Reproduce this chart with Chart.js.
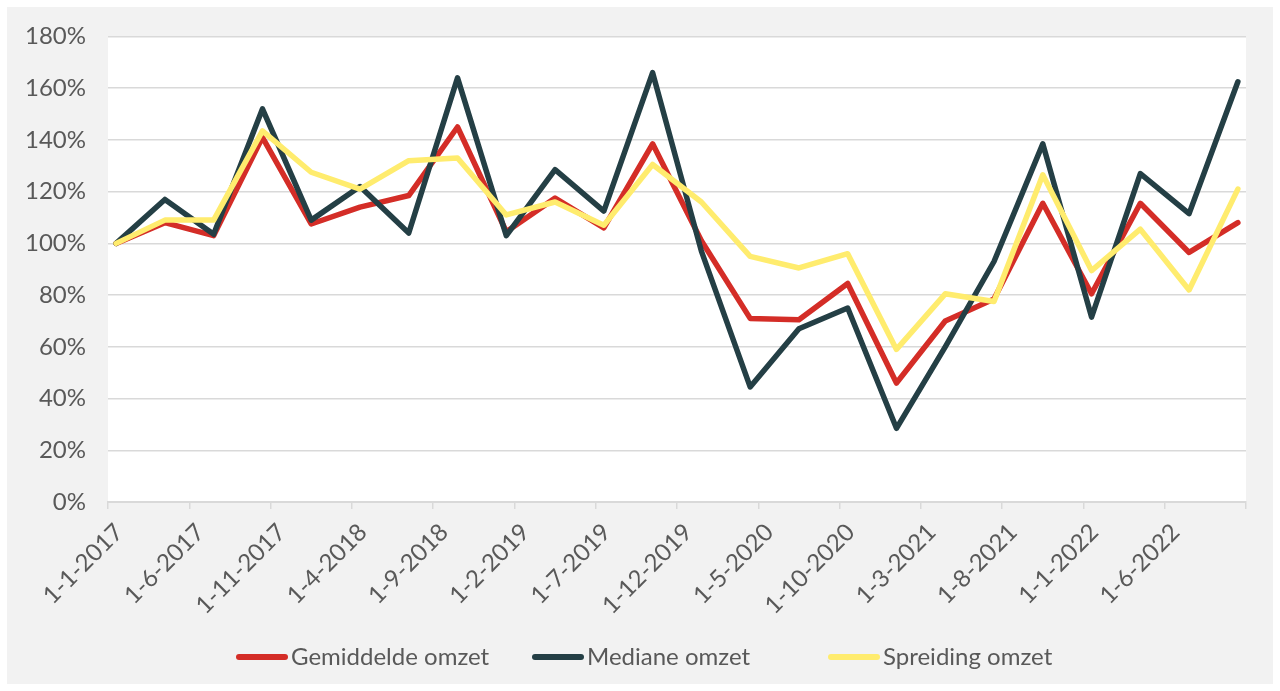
<!DOCTYPE html>
<html>
<head>
<meta charset="utf-8">
<script src="https://cdn.jsdelivr.net/npm/chart.js@4.4.1/dist/chart.umd.min.js"></script>
<style>
  body { margin: 0; background: #ffffff; }
  #panel { position: absolute; left: 7px; top: 7px; width: 1266px; height: 677px; background: #f2f2f2; }
  #omzet-chart { display: block; }
</style>
</head>
<body>
<div id="panel"><canvas id="omzet-chart"></canvas></div>
<script>
// quarterly measurement dates (year-month)
var dates = ["2017-01", "2017-04", "2017-07", "2017-10",
             "2018-01", "2018-04", "2018-07", "2018-10",
             "2019-01", "2019-04", "2019-07", "2019-10",
             "2020-01", "2020-04", "2020-07", "2020-10",
             "2021-01", "2021-04", "2021-07", "2021-10",
             "2022-01", "2022-04", "2022-07", "2022-10"];

// series values in percent (index, 1-1-2017 = 100%)
var gemiddelde = [100, 108, 103, 141, 107.5, 114, 118.5, 145, 104.5, 117.5, 106, 138.5,
                  101, 71, 70.5, 84.5, 46, 70, 78.5, 115.5, 80.5, 115.5, 96.5, 108];
var mediane = [100, 117, 103.5, 152, 109, 122, 104, 164, 103, 128.5, 112.5, 166,
               97, 44.5, 67, 75, 28.5, 60, 93, 138.5, 71.5, 127, 111.5, 162.5];
var spreiding = [100, 109, 109, 143.5, 127.5, 121, 132, 133, 111, 116, 107, 130.5,
                 116, 95, 90.5, 96, 59, 80.5, 77.5, 126.5, 89.5, 105.5, 82, 121];

// x axis tick labels, one every 5 months
var tick_labels = ["1-1-2017", "1-6-2017", "1-11-2017", "1-4-2018", "1-9-2018", "1-2-2019",
                   "1-7-2019", "1-12-2019", "1-5-2020", "1-10-2020", "1-3-2021", "1-8-2021",
                   "1-1-2022", "1-6-2022"];

var months_shown = 70;
var chart;

// months since jan 2017, placed in the middle of the month slot
function month_pos(d) {
  var parts = d.split("-");
  return (parseInt(parts[0]) - 2017) * 12 + (parseInt(parts[1]) - 1) + 0.5;
}

function make_points(vals) {
  var pts = [];
  for (var i = 0; i < vals.length; i++) {
    pts.push({x: month_pos(dates[i]), y: vals[i]});
  }
  return pts;
}

function make_dataset(label, vals, color, order) {
  return {
    label: label,
    data: make_points(vals),
    borderColor: color,
    backgroundColor: color,
    borderWidth: 5.5,
    borderCapStyle: "round",
    borderJoinStyle: "round",
    pointRadius: 0,
    tension: 0,
    order: order
  };
}

// white plot area on the grey panel
var plot_bg = {
  id: "plot_bg",
  beforeDraw: function(c) {
    var a = c.chartArea;
    c.ctx.save();
    c.ctx.fillStyle = "#ffffff";
    c.ctx.fillRect(a.left, a.top, a.right - a.left, a.bottom - a.top);
    c.ctx.restore();
  }
};

// excel style legend: equal width slots, short line right before the text
var slot_legend = {
  id: "slot_legend",
  afterDraw: function(c) {
    var ctx = c.ctx;
    var slot = 296;
    var n = c.data.datasets.length;
    var x0 = c.width / 2 - 404;
    var y = c.height - 27;
    ctx.save();
    ctx.font = "24px Lato";
    ctx.textBaseline = "middle";
    ctx.textAlign = "left";
    for (var i = 0; i < n; i++) {
      var ds = c.data.datasets[i];
      var x = x0 + i * slot;
      ctx.strokeStyle = ds.borderColor;
      ctx.lineWidth = 6;
      ctx.lineCap = "round";
      ctx.beginPath();
      ctx.moveTo(x + 3, y);
      ctx.lineTo(x + 49, y);
      ctx.stroke();
      ctx.fillStyle = "#595959";
      ctx.fillText(ds.label, x + 55, y);
    }
    ctx.restore();
  }
};

function setup() {
  Chart.defaults.font.family = "Lato";
  Chart.defaults.font.size = 24;
  Chart.defaults.color = "#595959";

  chart = new Chart("omzet-chart", {
    type: "line",
    data: {
      datasets: [
        make_dataset("Gemiddelde omzet", gemiddelde, "#d42d27", 3),
        make_dataset("Mediane omzet", mediane, "#243f45", 2),
        make_dataset("Spreiding omzet", spreiding, "#ffec6e", 1)
      ]
    },
    options: {
      responsive: true,
      maintainAspectRatio: false,
      animation: false,
      layout: {padding: {top: 29.5, right: 27, bottom: 79, left: 0}},
      plugins: {
        tooltip: {enabled: false},
        legend: {display: false}
      },
      scales: {
        x: {
          type: "linear",
          min: 0,
          max: months_shown,
          afterBuildTicks: function(scale) {
            var t = [];
            for (var m = 0; m <= months_shown; m += 5) { t.push({value: m}); }
            scale.ticks = t;
          },
          ticks: {
            autoSkip: false,
            minRotation: 45,
            maxRotation: 45,
            padding: 9,
            labelOffset: 11,
            callback: function(v) { return tick_labels[v / 5] || ""; }
          },
          grid: {
            drawOnChartArea: false,
            color: "#d9d9d9",
            lineWidth: 1.5,
            tickLength: 7
          },
          border: {color: "#d9d9d9", width: 2},
          afterFit: function(scale) {
            scale.height = 103;
            scale.paddingLeft = 0;
            scale.paddingRight = 0;
            // let the rotated labels run below the axis box
            scale._computeLabelArea = function() { return undefined; };
          }
        },
        y: {
          min: 0,
          max: 180,
          ticks: {
            stepSize: 20,
            padding: 22,
            callback: function(v) { return v + "%"; }
          },
          grid: {color: "#d9d9d9", lineWidth: 1.5, drawTicks: false},
          border: {display: false},
          afterFit: function(scale) {
            scale.width = 101;
            scale.paddingTop = 0;
            scale.paddingBottom = 0;
          }
        }
      }
    },
    plugins: [plot_bg, slot_legend]
  });
}

document.addEventListener("DOMContentLoaded", setup);
</script>
</body>
</html>
